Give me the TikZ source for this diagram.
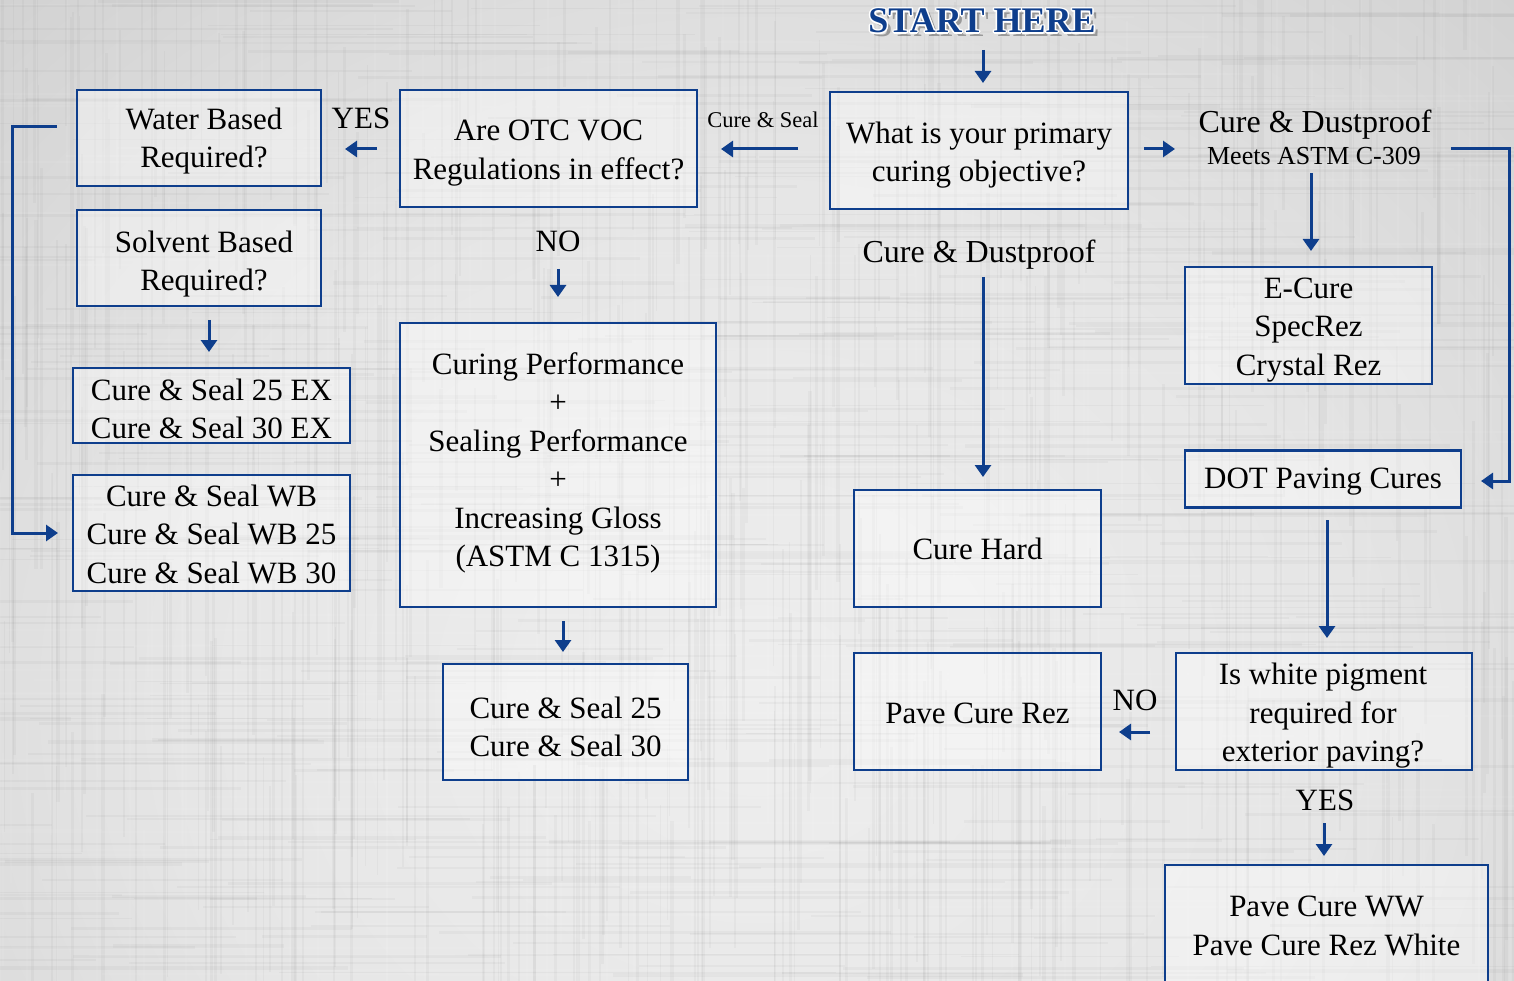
\documentclass[tikz,border=0pt]{standalone}
\usepackage{fontspec}
\setmainfont{Liberation Serif}
\usetikzlibrary{arrows.meta}
\definecolor{fblue}{RGB}{14,62,140}
\definecolor{bga}{RGB}{238,238,238}
\definecolor{bgb}{RGB}{230,230,230}
\definecolor{bgc}{RGB}{208,208,208}
\definecolor{bgd}{RGB}{178,178,178}
\definecolor{bge}{RGB}{152,152,152}
\definecolor{bgf}{RGB}{140,140,140}
\pgfdeclareradialshading{bgshade}{\pgfpoint{0bp}{0bp}}{color(0bp)=(bga); color(15bp)=(bgb); color(30bp)=(bgc); color(42bp)=(bgd); color(57bp)=(bge); color(72bp)=(bgf)}
\begin{document}
\begin{tikzpicture}[x=1pt,y=-1pt,
  box/.style={draw=fblue,line width=2.5pt,fill=white,fill opacity=0.4,inner sep=0pt},
  btxt/.style={align=center,inner sep=0pt,font=\fontsize{31}{38.5}\selectfont},
  lbl/.style={inner sep=0pt,font=\fontsize{31}{38}\selectfont},
  arr/.style={draw=fblue,line width=3pt,-{Triangle[length=12pt,width=16pt]}}]
\useasboundingbox (0,0) rectangle (1514,981);
\clip (0,0) rectangle (1514,981);
\shade[shading=bgshade] (-200,-150) rectangle (1714,1550);
% soft woven texture
\pgfmathsetseed{11}
\foreach \i in {1,...,420}{
  \pgfmathsetmacro{\yy}{rnd*981}
  \pgfmathsetmacro{\xx}{rnd*1514}
  \pgfmathsetmacro{\la}{150+rnd*450}
  \pgfmathsetmacro{\xs}{rnd*1514-200}
  \pgfmathsetmacro{\ys}{rnd*981-150}
  \pgfmathsetmacro{\wa}{1+rnd*2.5}
  \draw[black,opacity=0.028,line width=\wa pt] (\xs,\yy) -- ++(\la,0);
  \draw[black,opacity=0.028,line width=\wa pt] (\xx,\ys) -- ++(0,\la);
}
\foreach \i in {1,...,160}{
  \pgfmathsetmacro{\yy}{rnd*981}
  \pgfmathsetmacro{\xx}{rnd*1514}
  \pgfmathsetmacro{\la}{150+rnd*450}
  \pgfmathsetmacro{\xs}{rnd*1514-200}
  \pgfmathsetmacro{\ys}{rnd*981-150}
  \draw[white,opacity=0.06,line width=2pt] (\xs,\yy) -- ++(\la,0);
  \draw[white,opacity=0.06,line width=2pt] (\xx,\ys) -- ++(0,\la);
}

% title
\node[lbl,font=\fontsize{36}{40}\bfseries,text=black,opacity=0.3] at (986,25) {START HERE};
\foreach \dx/\dy in {-1.5/0,1.5/0,0/-1.5,0/1.5,-1.1/-1.1,1.1/1.1,-1.1/1.1,1.1/-1.1}
  \node[lbl,font=\fontsize{36}{40}\bfseries,text=white] at (982+\dx,21+\dy) {START HERE};
\node[lbl,font=\fontsize{36}{40}\bfseries,text=fblue] (start) at (982,21) {START HERE};

% boxes
\node[box,minimum width=244,minimum height=96] (wat) at (199,138) {};
\node[box,minimum width=244,minimum height=96] (sol) at (199,258) {};
\node[box,minimum width=277,minimum height=75] (ex) at (211.5,405.5) {};
\node[box,minimum width=277,minimum height=116] (wb) at (211.5,533) {};
\node[box,minimum width=297,minimum height=117] (otc) at (548.5,148.5) {};
\node[box,minimum width=316,minimum height=284] (perf) at (558,465) {};
\node[box,minimum width=245,minimum height=116] (cs) at (565.5,722) {};
\node[box,minimum width=298,minimum height=117] (obj) at (979,150.5) {};
\node[box,minimum width=247,minimum height=117] (hard) at (977.5,548.5) {};
\node[box,minimum width=247,minimum height=117] (pcr) at (977.5,711.5) {};
\node[box,minimum width=247,minimum height=117] (ecure) at (1308.5,325.5) {};
\node[box,minimum width=276,minimum height=57] (dot) at (1323,479) {};
\node[box,minimum width=296,minimum height=117] (white) at (1324,711.5) {};
\node[box,minimum width=323,minimum height=140] (ww) at (1326.5,935) {};

% box texts
\node[btxt] (watT) at (204,141) {Water Based\\Required?};
\node[btxt] (solT) at (204,264) {Solvent Based\\Required?};
\node[btxt] (exT) at (211.5,409) {Cure \& Seal 25 EX\\Cure \& Seal 30 EX};
\node[btxt] (wbT) at (211.5,534) {Cure \& Seal WB\\Cure \& Seal WB 25\\Cure \& Seal WB 30};
\node[btxt] (otcT) at (548.5,153) {Are OTC VOC\\Regulations in effect?};
\node[btxt] (perfT) at (558,463) {Curing Performance\\+\\Sealing Performance\\+\\Increasing Gloss\\(ASTM C 1315)};
\node[btxt] (csT) at (565.5,727) {Cure \& Seal 25\\Cure \& Seal 30};
\node[btxt] (objT) at (979,155) {What is your primary\\curing objective?};
\node[btxt] (hardT) at (977.5,549) {Cure Hard};
\node[btxt] (pcrT) at (977.5,713) {Pave Cure Rez};
\node[btxt] (ecureT) at (1308.5,330) {E-Cure\\SpecRez\\Crystal Rez};
\node[btxt] (dotT) at (1323,482) {DOT Paving Cures};
\node[btxt] (whiteT) at (1323,716) {Is white pigment\\required for\\exterior paving?};
\node[btxt] (wwT) at (1326.5,926) {Pave Cure WW\\Pave Cure Rez White};

% labels
\node[lbl,font=\fontsize{22.5}{26}\selectfont] (lcs) at (763,120) {Cure \& Seal};
\node[lbl] (lyes1) at (361,118) {YES};
\node[lbl] (lno1) at (558,241) {NO};
\node[lbl,font=\fontsize{32}{36}\selectfont] (lcd1) at (1315,125) {Cure \& Dustproof};
\node[lbl,font=\fontsize{26}{30}\selectfont] (lastm) at (1314,156) {Meets ASTM C-309};
\node[lbl,font=\fontsize{32}{36}\selectfont] (lcd2) at (979,255) {Cure \& Dustproof};
\node[lbl] (lno2) at (1135,700) {NO};
\node[lbl] (lyes2) at (1325,800) {YES};

% arrow end points
\coordinate (s1) at (983,50);   \coordinate (e1) at (983,83);
\coordinate (s2) at (798,149);  \coordinate (e2) at (721,149);
\coordinate (s3) at (377,149);  \coordinate (e3) at (345,149);
\coordinate (s4) at (558,269);  \coordinate (e4) at (558,297);
\coordinate (s5) at (209,320);  \coordinate (e5) at (209,352);
\coordinate (s6) at (563,621);  \coordinate (e6) at (563,652);
\coordinate (s7) at (1144,149); \coordinate (e7) at (1175,149);
\coordinate (s8) at (1311,173); \coordinate (e8) at (1311,251);
\coordinate (s9) at (1451,149); \coordinate (c9a) at (1509,149); \coordinate (c9b) at (1509,481); \coordinate (e9) at (1481,481);
\coordinate (s10) at (983,277); \coordinate (e10) at (983,477);
\coordinate (s11) at (1327,520); \coordinate (e11) at (1327,638);
\coordinate (s12) at (1150,732); \coordinate (e12) at (1119,732);
\coordinate (s13) at (1324,823); \coordinate (e13) at (1324,856);
\coordinate (s14) at (57,127); \coordinate (c14a) at (12,127); \coordinate (c14b) at (12,533); \coordinate (e14) at (58,533);

\draw[arr] (s1) -- (e1);
\draw[arr] (s2) -- (e2);
\draw[arr] (s3) -- (e3);
\draw[arr] (s4) -- (e4);
\draw[arr] (s5) -- (e5);
\draw[arr] (s6) -- (e6);
\draw[arr] (s7) -- (e7);
\draw[arr] (s8) -- (e8);
\draw[arr] (s9) -- (c9a) -- (c9b) -- (e9);
\draw[arr] (s10) -- (e10);
\draw[arr] (s11) -- (e11);
\draw[arr] (s12) -- (e12);
\draw[arr] (s13) -- (e13);
\draw[arr] (s14) -- (c14a) -- (c14b) -- (e14);
\end{tikzpicture}
\end{document}
